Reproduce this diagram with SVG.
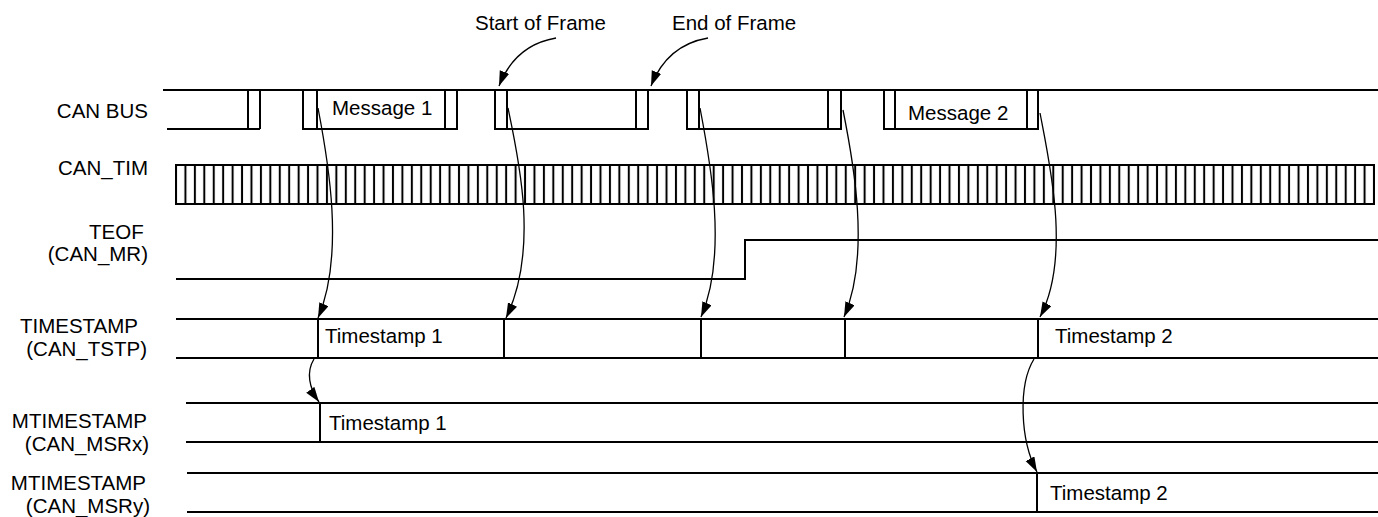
<svg xmlns="http://www.w3.org/2000/svg" width="1378" height="517" viewBox="0 0 1378 517">
<style>
text{font-family:"Liberation Sans",Arial,sans-serif;font-size:20.5px;fill:#000}
.lbl{text-anchor:end}
.sig{fill:none;stroke:#000;stroke-width:2}
.arr{fill:none;stroke:#000;stroke-width:1.3}
</style>
<defs>
<marker id="ah" markerUnits="userSpaceOnUse" markerWidth="16" markerHeight="11" refX="15" refY="5" orient="auto">
<path d="M0,0 L15,5 L0,10 z" fill="#000"/>
</marker>
<pattern id="clk" patternUnits="userSpaceOnUse" x="171.283" y="165" width="9.433" height="39">
<rect x="3.717" y="0" width="2" height="39" fill="#000"/>
</pattern>
</defs>
<rect width="1378" height="517" fill="#fff"/>

<g id="labels">
<text class="lbl" x="148" y="118">CAN BUS</text>
<text class="lbl" x="148" y="175">CAN_TIM</text>
<text x="89" y="239">TEOF</text>
<text class="lbl" x="148" y="261">(CAN_MR)</text>
<text class="lbl" x="138" y="333">TIMESTAMP</text>
<text class="lbl" x="147" y="356">(CAN_TSTP)</text>
<text class="lbl" x="147" y="428">MTIMESTAMP</text>
<text class="lbl" x="149" y="451">(CAN_MSRx)</text>
<text class="lbl" x="146" y="490">MTIMESTAMP</text>
<text class="lbl" x="150" y="513">(CAN_MSRy)</text>
<text x="475" y="30">Start of Frame</text>
<text x="672" y="30">End of Frame</text>
</g>

<g id="can-bus">
<path class="sig" d="M163,90 H1378"/>
<path class="sig" d="M167,129 H260 M248,90 V129 M260,90 V129"/>
<path class="sig" d="M303,90 V129 H457 V90 M317,90 V129 M445,90 V129"/>
<path class="sig" d="M495,90 V129 H648 V90 M507,90 V129 M636,90 V129"/>
<path class="sig" d="M687,90 V129 H841 V90 M699,90 V129 M828,90 V129"/>
<path class="sig" d="M884,90 V129 H1038 V90 M895,90 V129 M1027,90 V129"/>
<text x="332" y="115">Message 1</text>
<text x="908" y="120">Message 2</text>
</g>

<g id="can-tim">
<rect x="176" y="165" width="1198" height="39" fill="url(#clk)" stroke="#000" stroke-width="2"/>
</g>

<g id="teof">
<path class="sig" d="M176,279 H745 V240 H1378"/>
</g>

<g id="timestamp">
<path class="sig" d="M176,319 H1378 M176,358 H1378 M318,319 V358 M504,319 V358 M701,319 V358 M845,319 V358 M1038,319 V358"/>
<text x="325" y="343">Timestamp 1</text>
<text x="1055" y="343">Timestamp 2</text>
</g>

<g id="mtimestamp-x">
<path class="sig" d="M186,403 H1378 M186,442 H1378 M320,403 V442"/>
<text x="329" y="430">Timestamp 1</text>
</g>

<g id="mtimestamp-y">
<path class="sig" d="M187,473 H1378 M187,512 H1378 M1037,473 V512"/>
<text x="1050" y="500">Timestamp 2</text>
</g>

<g id="connectors">
<path class="arr" marker-end="url(#ah)" d="M556,38 Q515,45 499,86"/>
<path class="arr" marker-end="url(#ah)" d="M708,38 Q667,45 651,86"/>
<path class="arr" marker-end="url(#ah)" d="M318,108 C328,160 345,255 318,318"/>
<path class="arr" marker-end="url(#ah)" d="M508,108 C519,160 539,250 506,318"/>
<path class="arr" marker-end="url(#ah)" d="M700,108 C710,160 728,255 701,317"/>
<path class="arr" marker-end="url(#ah)" d="M843,110 C853,160 871,255 844,317"/>
<path class="arr" marker-end="url(#ah)" d="M1040,113 C1050,165 1071,258 1040,317"/>
<path class="arr" marker-end="url(#ah)" d="M314,359 C306,372 309,388 319,402"/>
<path class="arr" marker-end="url(#ah)" d="M1034,359 C1018,385 1020,440 1037,472"/>
</g>
</svg>
